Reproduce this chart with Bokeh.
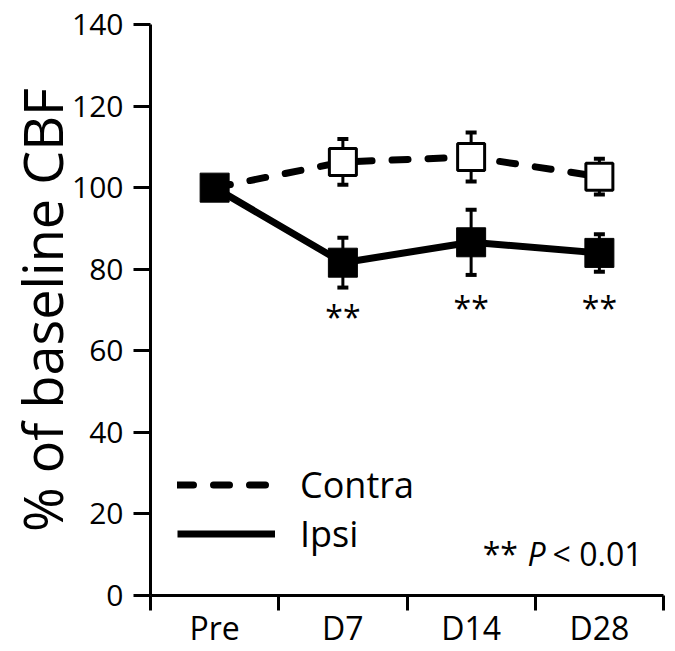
from bokeh.plotting import figure
from bokeh.models import (Range1d, FixedTicker, Whisker, ColumnDataSource, Legend,
                          LegendItem, Label)
from bokeh.core.properties import value
from bokeh.embed import file_html
from bokeh.resources import INLINE

# ---- data ----
categories = ["Pre", "D7", "D14", "D28"]
contra_mean = [100, 106.3, 107.5, 102.7]
contra_err = [0, 5.6, 6.0, 4.4]
ipsi_mean = [100, 81.6, 86.6, 84.0]
ipsi_err = [0, 6.1, 8.0, 4.6]
sig_marks = ["", "**", "**", "**"]
sig_y = [None, 68.3, 70.6, 70.6]
y_ticks = [0, 20, 40, 60, 80, 100, 120, 140]
y_title = "% of baseline CBF"
legend_labels = ["Contra", "Ipsi"]

FONT = "Open Sans"

xc = [i + 0.5 for i in range(len(categories))]
bounds = list(range(len(categories) + 1))

p = figure(width=665, height=651, output_backend="svg", toolbar_location=None,
           x_range=Range1d(0, len(categories)), y_range=Range1d(0, 140),
           min_border_left=150, min_border_right=2, min_border_top=24, min_border_bottom=54)
p.outline_line_color = None
p.grid.grid_line_color = None
p.background_fill_color = "white"
p.border_fill_color = "white"

# y axis
ya = p.yaxis[0]
ya.ticker = FixedTicker(ticks=y_ticks, minor_ticks=[])
ya.axis_line_width = 3
ya.major_tick_line_width = 3
ya.major_tick_out = 17
ya.major_tick_in = 0
ya.minor_tick_out = 0
ya.minor_tick_in = 0
ya.major_label_text_font = FONT
ya.major_label_text_font_size = "30px"
ya.major_label_text_color = "black"
ya.major_label_standoff = 10
ya.axis_label = y_title
ya.axis_label_text_font = FONT
ya.axis_label_text_font_size = "54px"
ya.axis_label_text_font_style = "normal"
ya.axis_label_text_color = "black"
ya.axis_label_standoff = -10

# x axis
xa = p.xaxis[0]
xa.ticker = FixedTicker(ticks=xc, minor_ticks=bounds)
xa.major_label_overrides = {x: c for x, c in zip(xc, categories)}
xa.axis_line_width = 3
xa.major_tick_out = 0
xa.major_tick_in = 0
xa.minor_tick_out = 15
xa.minor_tick_in = 0
xa.minor_tick_line_width = 3
xa.major_label_text_font = FONT
xa.major_label_text_font_size = "32px"
xa.major_label_text_color = "black"
xa.major_label_standoff = -5

src = ColumnDataSource(dict(
    x=xc, contra=contra_mean, ipsi=ipsi_mean,
    c_up=[m + e for m, e in zip(contra_mean, contra_err)],
    c_lo=[m - e for m, e in zip(contra_mean, contra_err)],
    i_up=[m + e for m, e in zip(ipsi_mean, ipsi_err)],
    i_lo=[m - e for m, e in zip(ipsi_mean, ipsi_err)],
))

contra_line = p.line("x", "contra", source=src, line_color="black", line_width=7,
                     line_dash="16 20", line_cap="round")
ipsi_line = p.line("x", "ipsi", source=src, line_color="black", line_width=7)

for up, lo in (("c_up", "c_lo"), ("i_up", "i_lo")):
    w = Whisker(base="x", upper=up, lower=lo, source=src, line_color="black", line_width=3)
    w.upper_head.size = 11
    w.lower_head.size = 11
    w.upper_head.line_width = 4
    w.lower_head.line_width = 4
    p.add_layout(w)

# contra markers (Pre point is hidden under the ipsi marker)
p.scatter(xc[1:], contra_mean[1:], marker="square", size=27, fill_color="white",
          line_color="black", line_width=3)
p.scatter("x", "ipsi", source=src, marker="square", size=29, fill_color="black",
          line_color="black", line_width=1)

# significance marks
sx = [x for x, s in zip(xc, sig_marks) if s]
sy = [y for y, s in zip(sig_y, sig_marks) if s]
st = [s for s in sig_marks if s]
p.text(sx, sy, text=st, text_font=value(FONT), text_font_size="32px",
       text_align="center", text_baseline="middle", text_color="black")

legend = Legend(items=[LegendItem(label=legend_labels[0], renderers=[contra_line]),
                       LegendItem(label=legend_labels[1], renderers=[ipsi_line])],
                location=(27, 37), orientation="vertical")
legend.background_fill_alpha = 0
legend.border_line_color = None
legend.padding = 0
legend.margin = 0
legend.spacing = 0
legend.glyph_width = 98
legend.glyph_height = 45
legend.label_height = 45
legend.label_standoff = 25
legend.label_text_font = FONT
legend.label_text_font_size = "36px"
legend.label_text_color = "black"
p.add_layout(legend, "center")

# p-value note
p.add_layout(Label(x=2.59, y=10.3, text="**", text_font=FONT, text_font_size="32px",
                   text_color="black", text_baseline="alphabetic"))
p.add_layout(Label(x=2.94, y=10.3, text="P", text_font=FONT, text_font_size="32px",
                   text_font_style="italic", text_color="black", text_baseline="alphabetic"))
p.add_layout(Label(x=3.135, y=10.3, text="< 0.01", text_font=FONT, text_font_size="32px",
                   text_color="black", text_baseline="alphabetic"))

open("out.html", "w").write(file_html(p, INLINE))
